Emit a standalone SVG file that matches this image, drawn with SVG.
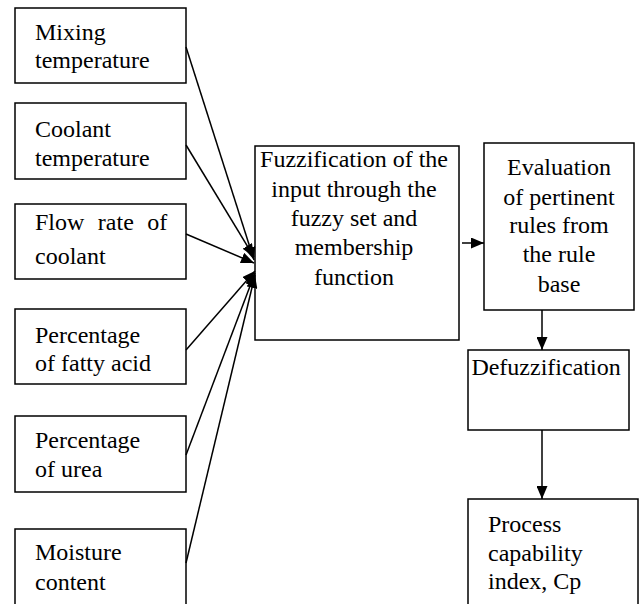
<svg xmlns="http://www.w3.org/2000/svg" width="639" height="604" viewBox="0 0 639 604">
<defs>
<marker id="ah" markerWidth="13" markerHeight="11" refX="13" refY="5.5" orient="auto" markerUnits="userSpaceOnUse">
<path d="M0,0 L13,5.5 L0,11 Z" fill="#000"/>
</marker>
</defs>
<style>
svg text{font-family:"Liberation Serif","Times New Roman",serif !important;font-size:24px !important;fill:#000}
rect{fill:#fff;stroke:#000;stroke-width:1.5}
.c{text-anchor:middle}
#connectors line{stroke:#000;stroke-width:1.5;marker-end:url(#ah)}
</style>
<rect x="0" y="0" width="639" height="604" style="stroke:none"/>
<g id="mixing"><rect x="15" y="8" width="171" height="75"/><text style="font-family:'Liberation Serif',serif" x="35" y="40">Mixing</text><text style="font-family:'Liberation Serif',serif" x="35" y="68">temperature</text></g>
<g id="coolant"><rect x="15" y="103" width="171" height="76"/><text style="font-family:'Liberation Serif',serif" x="35" y="137">Coolant</text><text style="font-family:'Liberation Serif',serif" x="35" y="166">temperature</text></g>
<g id="flow"><rect x="15" y="204" width="171" height="75"/><text style="font-family:'Liberation Serif',serif;word-spacing:7.5px" x="35" y="230">Flow rate of</text><text style="font-family:'Liberation Serif',serif" x="35" y="264">coolant</text></g>
<g id="fatty"><rect x="15" y="309" width="171" height="75"/><text style="font-family:'Liberation Serif',serif" x="35" y="343">Percentage</text><text style="font-family:'Liberation Serif',serif" x="35" y="371">of fatty acid</text></g>
<g id="urea"><rect x="15" y="416" width="171" height="76"/><text style="font-family:'Liberation Serif',serif" x="35" y="448">Percentage</text><text style="font-family:'Liberation Serif',serif" x="35" y="477">of urea</text></g>
<g id="moisture"><rect x="15" y="529" width="171" height="90"/><text style="font-family:'Liberation Serif',serif" x="35" y="560">Moisture</text><text style="font-family:'Liberation Serif',serif" x="35" y="590">content</text></g>
<g id="fuzzification"><rect x="255" y="146" width="204" height="194"/>
<text class="c" style="font-family:'Liberation Serif',serif" x="354" y="167">Fuzzification of the</text><text class="c" style="font-family:'Liberation Serif',serif" x="354" y="197">input through the</text><text class="c" style="font-family:'Liberation Serif',serif" x="354" y="226">fuzzy set and</text><text class="c" style="font-family:'Liberation Serif',serif" x="354" y="255">membership</text><text class="c" style="font-family:'Liberation Serif',serif" x="354" y="285">function</text></g>
<g id="evaluation"><rect x="484" y="143" width="150" height="167"/>
<text class="c" style="font-family:'Liberation Serif',serif" x="559" y="175">Evaluation</text><text class="c" style="font-family:'Liberation Serif',serif" x="559" y="205">of pertinent</text><text class="c" style="font-family:'Liberation Serif',serif" x="559" y="233">rules from</text><text class="c" style="font-family:'Liberation Serif',serif" x="559" y="262">the rule</text><text class="c" style="font-family:'Liberation Serif',serif" x="559" y="292">base</text></g>
<g id="defuzzification"><rect x="468" y="350" width="161" height="80"/><text class="c" style="font-family:'Liberation Serif',serif" x="546" y="375">Defuzzification</text></g>
<g id="process"><rect x="468" y="499" width="170" height="120"/><text style="font-family:'Liberation Serif',serif" x="488" y="532">Process</text><text style="font-family:'Liberation Serif',serif" x="488" y="561">capability</text><text style="font-family:'Liberation Serif',serif" x="488" y="589">index, Cp</text></g>
<g id="connectors">
<line x1="186" y1="47" x2="254" y2="260"/>
<line x1="186" y1="145" x2="254" y2="257"/>
<line x1="186" y1="234" x2="254" y2="263"/>
<line x1="186" y1="350" x2="255" y2="271"/>
<line x1="186" y1="455" x2="255" y2="273"/>
<line x1="186" y1="563" x2="255" y2="275"/>
<line x1="462" y1="243" x2="484" y2="243"/>
<line x1="542" y1="310" x2="542" y2="350"/>
<line x1="542" y1="430" x2="542" y2="499"/>
</g>
</svg>
